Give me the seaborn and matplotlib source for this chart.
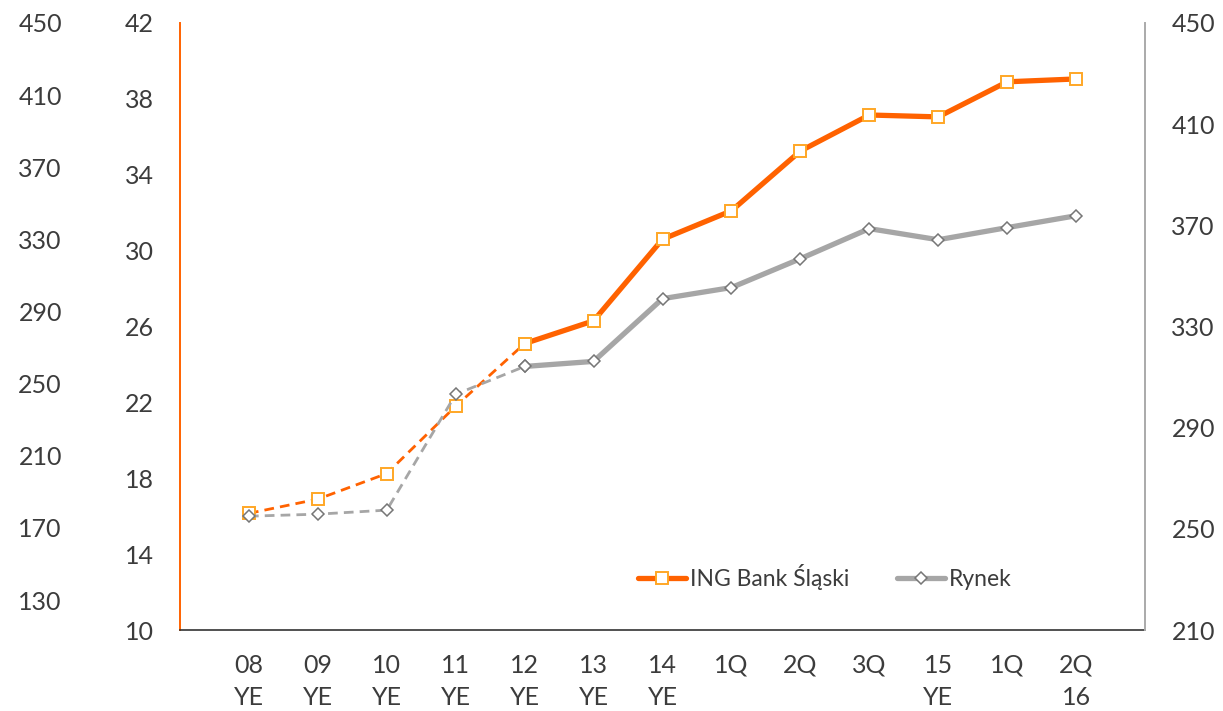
import matplotlib
matplotlib.use("Agg")
import numpy as np
import pandas as pd
import seaborn as sns
import matplotlib.pyplot as plt
from matplotlib.lines import Line2D

# ---- data ----
categories = ["08\nYE", "09\nYE", "10\nYE", "11\nYE", "12\nYE", "13\nYE", "14\nYE",
              "1Q", "2Q", "3Q", "15\nYE", "1Q", "2Q\n16"]
ing_values = [16.15, 16.9, 18.25, 21.8, 25.1, 26.3, 30.6, 32.1, 35.25, 37.15, 37.05, 38.9, 39.05]
rynek_values = [255.0, 255.8, 257.4, 303.2, 314.2, 316.2, 341.0, 345.4, 356.8, 368.7, 364.3, 369.1, 373.8]
series_names = ["ING Bank Śląski", "Rynek"]
solid_from = 4  # first category drawn with a solid line
left_ticks = [10, 14, 18, 22, 26, 30, 34, 38, 42]
right_ticks = [210, 250, 290, 330, 370, 410, 450]
outer_ticks = [130, 170, 210, 250, 290, 330, 370, 410, 450]

sns.set_theme(style="white")
plt.rcParams['font.family'] = ['Lato', 'DejaVu Sans']

ORANGE = "#FF6200"
ORANGE_MK = "#FFA726"
GRAY = "#A6A6A6"
GRAY_MK = "#767676"
TXT = "#3C3C3C"

df = pd.DataFrame({"pos": np.arange(len(categories)),
                   "ing": ing_values, "rynek": rynek_values})
dash_df = df.iloc[:solid_from + 1]
solid_df = df.iloc[solid_from:]

W, H = 1223, 711
fig = plt.figure(figsize=(W / 100, H / 100), dpi=100)
ax = fig.add_axes([180 / W, 1 - 630 / H, (1145 - 180) / W, (630 - 23) / H])
ax2 = ax.twinx()
ax3 = ax.twinx()

sq = dict(marker="s", markersize=8, markerfacecolor="white",
          markeredgecolor=ORANGE_MK, markeredgewidth=1.4)
dm = dict(marker="D", markersize=6.5, markerfacecolor="white",
          markeredgecolor=GRAY_MK, markeredgewidth=1.1)

sns.lineplot(data=dash_df, x="pos", y="ing", ax=ax, color=ORANGE, linewidth=2.0,
             linestyle=(0, (3.5, 2.2)), **sq)
sns.lineplot(data=solid_df, x="pos", y="ing", ax=ax, color=ORANGE, linewidth=3.8, **sq)
sns.lineplot(data=dash_df, x="pos", y="rynek", ax=ax2, color=GRAY, linewidth=2.0,
             linestyle=(0, (3.5, 2.2)), **dm)
sns.lineplot(data=solid_df, x="pos", y="rynek", ax=ax2, color=GRAY, linewidth=3.8, **dm)

ax.set_xlim(-1, 13)
ax.set_ylim(10, 42)
ax2.set_ylim(210, 450)
ax3.set_ylim(113.4, 450)

ax.set_xticks(df["pos"])
ax.set_xticklabels(categories, linespacing=1.5)
ax.set_yticks(left_ticks)
ax2.set_yticks(right_ticks)
ax3.set_yticks(outer_ticks)
ax3.yaxis.tick_left()

for a in (ax, ax2, ax3):
    a.set_xlabel("")
    a.set_ylabel("")
    a.grid(False)
    a.tick_params(length=0, labelsize=18, colors=TXT)
    for s in a.spines.values():
        s.set_visible(False)

ax.tick_params(axis="y", pad=19)
ax.tick_params(axis="x", pad=17)
ax2.tick_params(axis="y", pad=19)
ax3.tick_params(axis="y", pad=19)

ax.spines["left"].set_visible(True)
ax.spines["left"].set_color(ORANGE)
ax.spines["left"].set_linewidth(1.4)
ax.spines["bottom"].set_visible(True)
ax.spines["bottom"].set_color("#333333")
ax.spines["bottom"].set_linewidth(1.2)
ax2.spines["right"].set_visible(True)
ax2.spines["right"].set_color("#AAAAAA")
ax2.spines["right"].set_linewidth(1.4)
ax3.spines["left"].set_position(("outward", 66))

handles = [
    Line2D([], [], color=ORANGE, linewidth=3.8, **sq),
    Line2D([], [], color=GRAY, linewidth=3.8, **dm),
]
leg = ax2.legend(handles, series_names, loc="center", bbox_to_anchor=(0.668, 0.087),
                 ncol=2, frameon=False, fontsize=16.5, handlelength=2.1,
                 handletextpad=0.15, columnspacing=2.1, labelcolor=TXT)

fig.savefig("out.png", dpi=100)
